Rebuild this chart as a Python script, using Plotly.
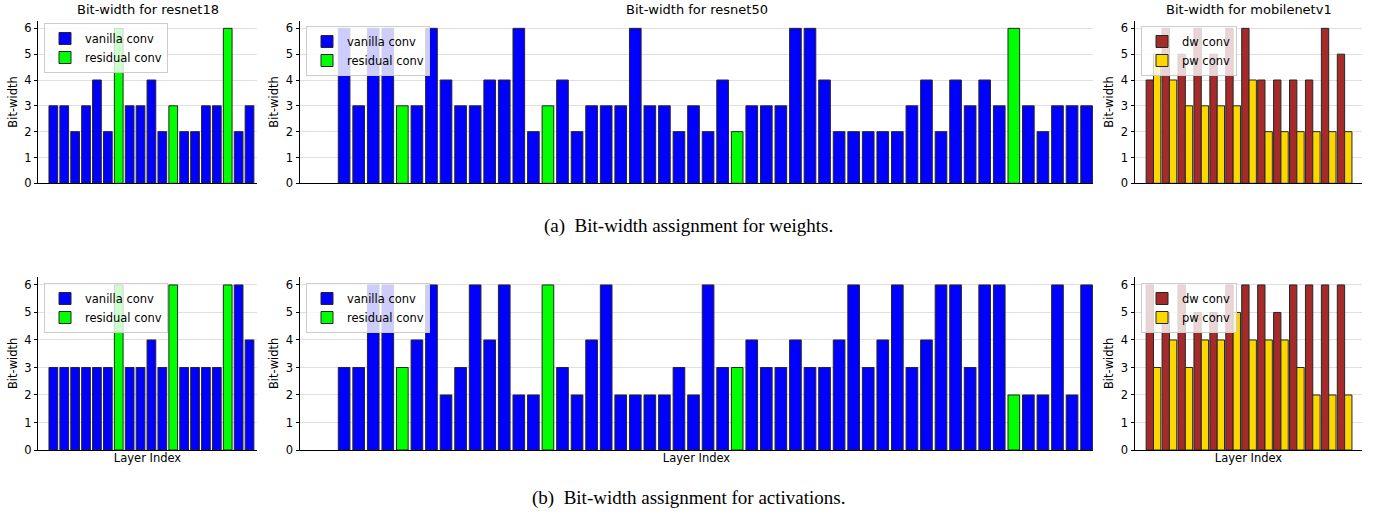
import plotly.graph_objects as go

# ---------------- data ----------------
r18_layers = list(range(1, 20))
r18_residual = [7, 12, 17]
r18_w_bits = [3, 3, 2, 3, 4, 2, 6, 3, 3, 4, 2, 3, 2, 2, 3, 3, 6, 2, 3]
r18_a_bits = [3, 3, 3, 3, 3, 3, 6, 3, 3, 4, 3, 6, 3, 3, 3, 3, 6, 6, 4]

r50_layers = list(range(1, 53))
r50_residual = [5, 15, 28, 47]
r50_w_bits = [6, 3, 6, 6, 3, 3, 6, 4, 3, 3, 4, 4, 6, 2, 3, 4, 2, 3, 3, 3, 6, 3, 3, 2, 3, 2,
              4, 2, 3, 3, 3, 6, 6, 4, 2, 2, 2, 2, 2, 3, 4, 2, 4, 3, 4, 3, 6, 3, 2, 3, 3, 3]
r50_a_bits = [3, 3, 6, 6, 3, 4, 6, 2, 3, 6, 4, 6, 2, 2, 6, 3, 2, 4, 6, 2, 2, 2, 2, 3, 2, 6,
              3, 3, 4, 3, 3, 4, 3, 3, 4, 6, 3, 4, 6, 3, 4, 6, 6, 3, 6, 6, 2, 2, 2, 6, 2, 6]

mb_blocks = list(range(1, 14))
mb_w_dw = [4, 6, 5, 6, 5, 6, 6, 4, 4, 4, 4, 6, 5]
mb_w_pw = [5, 4, 3, 3, 3, 3, 4, 2, 2, 2, 2, 2, 2]
mb_a_dw = [6, 5, 6, 5, 5, 6, 6, 6, 5, 6, 6, 6, 6]
mb_a_pw = [3, 4, 3, 4, 4, 5, 4, 4, 4, 3, 2, 2, 2]

titles = ["Bit-width for resnet18", "Bit-width for resnet50", "Bit-width for mobilenetv1"]
captions = ["(a)  Bit-width assignment for weights.", "(b)  Bit-width assignment for activations."]

# ---------------- style ----------------
W, H = 1377, 516
FONT = "DejaVu Sans"
BLUE, GREEN, BROWN, GOLD = "#0000ff", "#00ff00", "#a52a2a", "#ffd700"
EDGE = dict(color="#262626", width=1)

col_x = [(38.3, 256.7), (300, 1093), (1135, 1362)]
row_y = [(20.6, 183.3), (276.7, 450)]   # (top, bottom) in pixels
x_ranges = [[-0.38, 19.66], [-2.03, 52.44], [-0.16, 14.09]]
legend_pos = [[(44, 23), (306, 26), (1141, 26)], [(44, 283), (306, 283), (1141, 283)]]

fig = go.Figure()


def px_to_paper_x(px):
    return px / W


def px_to_paper_y(py):
    return 1 - py / H


def add_resnet(ax, layers, bits, residual, leg):
    vx = [l for l in layers if l not in residual]
    vy = [b for l, b in zip(layers, bits) if l not in residual]
    rx = [l for l in layers if l in residual]
    ry = [b for l, b in zip(layers, bits) if l in residual]
    fig.add_bar(x=vx, y=vy, width=0.8, name="vanilla conv",
                marker=dict(color=BLUE, line=EDGE),
                xaxis=f"x{ax}", yaxis=f"y{ax}", legend=leg)
    fig.add_bar(x=rx, y=ry, width=0.8, name="residual conv",
                marker=dict(color=GREEN, line=EDGE),
                xaxis=f"x{ax}", yaxis=f"y{ax}", legend=leg)


def add_mobilenet(ax, blocks, dw, pw, leg):
    w = 0.46
    fig.add_bar(x=blocks, y=dw, width=w, offset=-w, name="dw conv",
                marker=dict(color=BROWN, line=EDGE),
                xaxis=f"x{ax}", yaxis=f"y{ax}", legend=leg)
    fig.add_bar(x=blocks, y=pw, width=w, offset=0, name="pw conv",
                marker=dict(color=GOLD, line=EDGE),
                xaxis=f"x{ax}", yaxis=f"y{ax}", legend=leg)


legend_names = ["legend", "legend2", "legend3", "legend4", "legend5", "legend6"]

add_resnet(1, r18_layers, r18_w_bits, r18_residual, "legend")
add_resnet(2, r50_layers, r50_w_bits, r50_residual, "legend2")
add_mobilenet(3, mb_blocks, mb_w_dw, mb_w_pw, "legend3")
add_resnet(4, r18_layers, r18_a_bits, r18_residual, "legend4")
add_resnet(5, r50_layers, r50_a_bits, r50_residual, "legend5")
add_mobilenet(6, mb_blocks, mb_a_dw, mb_a_pw, "legend6")

layout = dict(
    width=W, height=H, margin=dict(l=0, r=0, t=0, b=0, autoexpand=False),
    paper_bgcolor="white", plot_bgcolor="white",
    barmode="overlay", showlegend=True,
    font=dict(family=FONT, size=11.5, color="black"),
)

annotations = []
for r in range(2):
    for c in range(3):
        i = r * 3 + c + 1
        sx = "" if i == 1 else str(i)
        x0, x1 = col_x[c]
        top, bot = row_y[r]
        layout[f"xaxis{sx}"] = dict(
            domain=[px_to_paper_x(x0), px_to_paper_x(x1)], range=x_ranges[c],
            anchor=f"y{i}", showline=True, linecolor="black", linewidth=1,
            ticks="", showticklabels=False, showgrid=False, zeroline=False,
            automargin=False,
            title=dict(text="Layer Index" if r == 1 else "", font=dict(size=11.5), standoff=3),
        )
        layout[f"yaxis{sx}"] = dict(
            domain=[px_to_paper_y(bot), px_to_paper_y(top)], range=[0, 6.3],
            anchor=f"x{i}", tickmode="array", tickvals=[0, 1, 2, 3, 4, 5, 6],
            ticks="outside", ticklen=3.5, tickwidth=1, tickcolor="black",
            showline=True, linecolor="black", linewidth=1,
            showgrid=True, gridcolor="#e0e0e0", gridwidth=1, zeroline=False,
            automargin=False, tickfont=dict(size=11.5),
            title=dict(text="Bit-width", font=dict(size=11.5), standoff=4),
        )
        lx, ly = legend_pos[r][c]
        layout[legend_names[i - 1]] = dict(
            x=px_to_paper_x(lx), y=px_to_paper_y(ly), xanchor="left", yanchor="top",
            bgcolor="rgba(255,255,255,0.8)", bordercolor="#cccccc", borderwidth=1,
            font=dict(family=FONT, size=11.5), tracegroupgap=0, itemwidth=30,
        )

for c in range(3):
    x0, x1 = col_x[c]
    annotations.append(dict(
        text=titles[c], x=px_to_paper_x((x0 + x1) / 2), y=px_to_paper_y(9),
        xref="paper", yref="paper", xanchor="center", yanchor="middle",
        showarrow=False, font=dict(family=FONT, size=13)))

for r, cy in enumerate([226, 498]):
    annotations.append(dict(
        text=captions[r], x=px_to_paper_x(689), y=px_to_paper_y(cy),
        xref="paper", yref="paper", xanchor="center", yanchor="middle",
        showarrow=False, font=dict(family="Liberation Serif", size=19)))

layout["annotations"] = annotations
fig.update_layout(**layout)

fig.write_html("out.html", config={"displayModeBar": False},
               post_script="document.body.style.margin='0px';")
